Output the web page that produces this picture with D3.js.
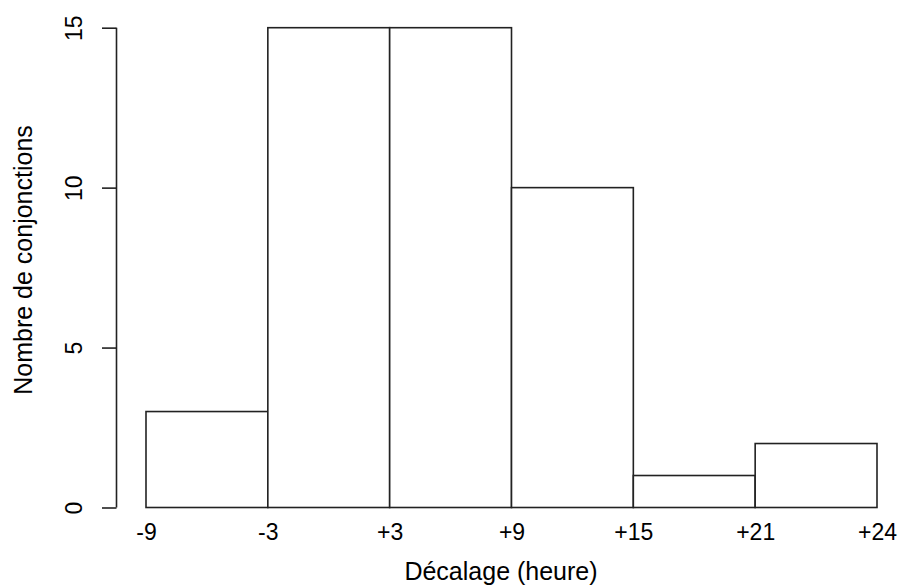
<!DOCTYPE html>
<html>
<head>
<meta charset="utf-8">
<script src="https://cdn.jsdelivr.net/npm/d3@7"></script>
<style>
  html, body { margin: 0; padding: 0; background: #fff; }
  svg { display: block; font-family: "Liberation Sans", Arial, sans-serif; }
</style>
</head>
<body>
<svg id="chart" width="899" height="585"></svg>
<script>
// Data
const binEdges = ["-9", "-3", "+3", "+9", "+15", "+21", "+24"];
const counts = [3, 15, 15, 10, 1, 2];
const yTicks = [0, 5, 10, 15];
const xTitle = "Décalage (heure)";
const yTitle = "Nombre de conjonctions";

const svg = d3.select("#chart");
const stroke = "#222";

const x = d3.scalePoint().domain(binEdges).range([146, 877]);
const y = d3.scaleLinear().domain([0, 15]).range([507.5, 27.7]);

// Bars
svg.append("g").selectAll("rect")
  .data(counts)
  .join("rect")
  .attr("x", (d, i) => x(binEdges[i]))
  .attr("width", (d, i) => x(binEdges[i + 1]) - x(binEdges[i]))
  .attr("y", d => y(d))
  .attr("height", d => y(0) - y(d))
  .attr("fill", "#fff")
  .attr("stroke", stroke)
  .attr("stroke-width", 1.6);

// Y axis
const yAxis = d3.axisLeft(y).tickValues(yTicks).tickSize(14.5).tickSizeOuter(0).tickPadding(0);
const gy = svg.append("g").attr("transform", "translate(116.5,0)").call(yAxis);
gy.select(".domain").attr("stroke", stroke).attr("stroke-width", 1.6)
  .attr("d", `M0,${y(15)}V${y(0)}`);
gy.selectAll(".tick line").attr("stroke", stroke).attr("stroke-width", 1.6);
gy.selectAll(".tick text")
  .attr("x", 0).attr("dy", null).attr("y", 0)
  .attr("transform", "translate(-34.5,0) rotate(-90)")
  .attr("text-anchor", "middle")
  .attr("font-size", 23)
  .attr("font-family", "Liberation Sans, Arial, sans-serif")
  .attr("fill", "#000");

// X axis labels only (no line, no ticks)
const xAxis = d3.axisBottom(x).tickSize(0).tickPadding(0);
const gx = svg.append("g").attr("transform", "translate(0,540)").call(xAxis);
gx.select(".domain").remove();
gx.selectAll(".tick text")
  .attr("y", 0).attr("dy", null)
  .attr("font-size", 23)
  .attr("font-family", "Liberation Sans, Arial, sans-serif")
  .attr("fill", "#000");

// Titles
svg.append("text")
  .attr("x", 501).attr("y", 580)
  .attr("text-anchor", "middle")
  .attr("font-size", 25)
  .attr("fill", "#000")
  .text(xTitle);

svg.append("text")
  .attr("transform", "translate(31.5,260) rotate(-90)")
  .attr("text-anchor", "middle")
  .attr("font-size", 25)
  .attr("fill", "#000")
  .text(yTitle);
</script>
</body>
</html>
